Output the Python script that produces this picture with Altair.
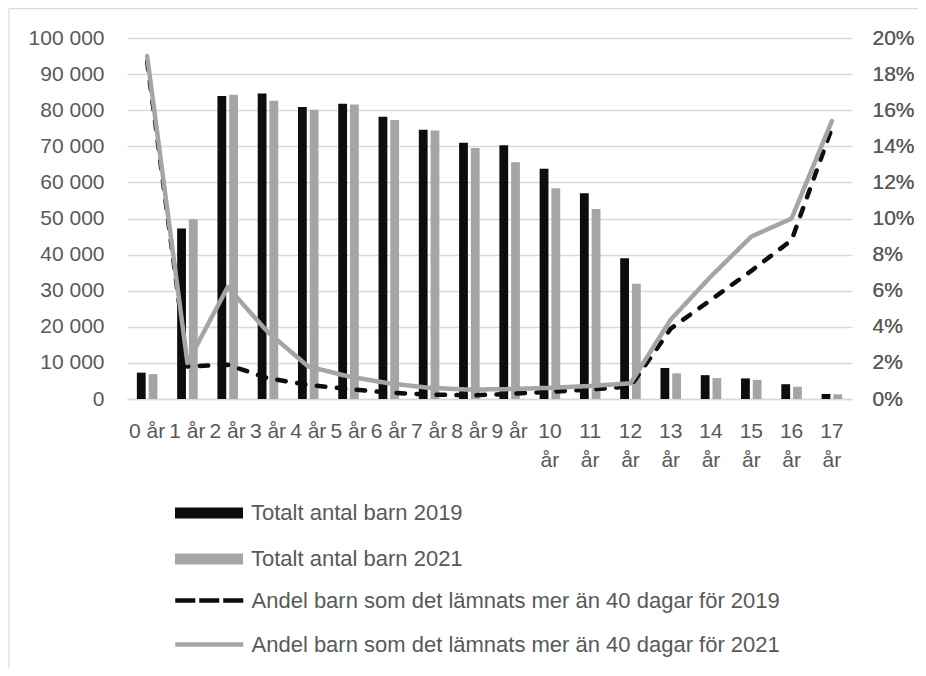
import altair as alt
import pandas as pd

# ---- data ----
kategorier = ["0 år", "1 år", "2 år", "3 år", "4 år", "5 år", "6 år", "7 år", "8 år",
              "9 år", "10 år", "11 år", "12 år", "13 år", "14 år", "15 år", "16 år", "17 år"]

antal_2019 = [7300, 47200, 83900, 84600, 80900, 81800, 78200, 74600, 71000,
              70300, 63800, 57000, 39000, 8600, 6600, 5700, 4100, 1400]
antal_2021 = [6900, 49800, 84300, 82600, 80100, 81600, 77300, 74400, 69500,
              65600, 58400, 52600, 31900, 7100, 5800, 5300, 3400, 1300]

andel_2019 = [0.187, 0.018, 0.019, 0.0115, 0.0078, 0.0055, 0.0035, 0.0025, 0.0020,
              0.0028, 0.0040, 0.0052, 0.0070, 0.039, 0.055, 0.071, 0.088, 0.150]
andel_2021 = [0.190, 0.020, 0.062, 0.037, 0.018, 0.0125, 0.0087, 0.0062, 0.0052,
              0.0055, 0.0062, 0.0072, 0.0087, 0.044, 0.068, 0.090, 0.100, 0.154]

bar_series = ["Totalt antal barn 2019", "Totalt antal barn 2021"]
line_series = ["Andel barn som det lämnats mer än 40 dagar för 2019",
               "Andel barn som det lämnats mer än 40 dagar för 2021"]

y_left_ticks = list(range(0, 100001, 10000))
y_right_ticks = [0, 0.02, 0.04, 0.06, 0.08, 0.10, 0.12, 0.14, 0.16, 0.18, 0.20]

# ---- tables ----
bars = pd.DataFrame({
    "kat": kategorier * 2,
    "serie": [bar_series[0]] * len(kategorier) + [bar_series[1]] * len(kategorier),
    "antal": antal_2019 + antal_2021,
})
lines = pd.DataFrame({
    "kat": kategorier * 2,
    "serie": [line_series[0]] * len(kategorier) + [line_series[1]] * len(kategorier),
    "andel": andel_2019 + andel_2021,
})

FONT = "Liberation Sans"
TXT = "#595959"
GRID = "#d9d9d9"
BLACK = "#0d0d0d"
GRAY = "#a5a5a5"

x_enc = alt.X(
    "kat:N", sort=kategorier, title=None,
    scale=alt.Scale(paddingInner=0.49, paddingOuter=0.245),
    axis=alt.Axis(
        labelExpr="length(datum.label) > 4 ? split(datum.label, ' ') : datum.label",
        labelAngle=0, ticks=False, domainColor=GRID, domainWidth=1.5,
        labelPadding=21, labelLineHeight=29, labelBaseline="top",
        labelFontSize=21, labelFont=FONT, labelColor=TXT,
    ),
)

bar_layer = alt.Chart(bars).mark_bar().encode(
    x=x_enc,
    xOffset=alt.XOffset("serie:N", sort=bar_series, scale=alt.Scale(paddingInner=0.25)),
    y=alt.Y(
        "antal:Q", title=None,
        scale=alt.Scale(domain=[0, 100000], nice=False),
        axis=alt.Axis(
            values=y_left_ticks, grid=True, gridColor=GRID, gridWidth=1.5,
            domain=False, ticks=False, labelPadding=23,
            labelExpr="replace(format(datum.value, ',d'), ',', ' ')",
            labelFontSize=21, labelFont=FONT, labelColor=TXT,
        ),
    ),
    fill=alt.Fill(
        "serie:N",
        scale=alt.Scale(domain=bar_series, range=[BLACK, GRAY]),
        legend=alt.Legend(
            title=None, orient="none", legendX=71, legendY=464, direction="vertical",
            symbolType="M-3.09,-0.5H3.09V0.5H-3.09Z", symbolSize=484, symbolStrokeWidth=0,
            labelFont=FONT, labelFontSize=22, labelColor=TXT, labelOffset=31,
            labelLimit=1000, rowPadding=24, padding=0,
        ),
    ),
)

y_right = alt.Y(
    "andel:Q", title=None,
    scale=alt.Scale(domain=[0, 0.2], nice=False),
    axis=alt.Axis(
        orient="right", values=y_right_ticks, format=".0%", grid=False,
        domain=False, ticks=False, labelPadding=20,
        labelFontSize=21, labelFont=FONT, labelColor=TXT,
    ),
)

legend_paths = ["M-3.09,0H-1.27M-0.91,0H0.91M1.27,0H3.09", "M-3.09,0H3.09"]
legend_y = [549, 593]
line_colors = [BLACK, GRAY]
line_dash = [[8.5, 11.5], [1, 0]]

def line_layer(i):
    serie = line_series[i]
    return alt.Chart(lines).transform_filter(
        alt.datum.serie == serie
    ).mark_line(
        strokeWidth=4.5, strokeCap="round", strokeJoin="round", strokeDash=line_dash[i]
    ).encode(
        x=x_enc,
        y=y_right,
        stroke=alt.Stroke(
            "serie:N",
            scale=alt.Scale(domain=[serie], range=[line_colors[i]]),
            legend=alt.Legend(
                title=None, orient="none", legendX=68.75, legendY=legend_y[i],
                direction="vertical", symbolType=legend_paths[i], symbolSize=484,
                symbolStrokeWidth=4.5, labelFont=FONT, labelFontSize=22,
                labelColor=TXT, labelOffset=28.75, labelLimit=1000, padding=0,
            ),
        ),
    )

frame_df = pd.DataFrame({"a": [0]})
frame_top = alt.Chart(frame_df).mark_rule(color=GRID, strokeWidth=1.2).encode(
    x=alt.value(-118), x2=alt.value(900), y=alt.value(-29.4)
)
frame_left = alt.Chart(frame_df).mark_rule(color=GRID, strokeWidth=1.2).encode(
    x=alt.value(-118), y=alt.value(-29.4), y2=alt.value(700)
)

chart = alt.layer(
    frame_top, frame_left, bar_layer, line_layer(0), line_layer(1)
).resolve_scale(
    y="independent", stroke="independent"
).properties(
    width=725, height=361,
    padding={"left": 119, "top": 30, "right": 66, "bottom": 269},
    autosize=alt.AutoSizeParams(type="none"),
).configure_view(
    strokeWidth=0
)

chart.save("out.html", embed_options={"renderer": "svg", "actions": False})
